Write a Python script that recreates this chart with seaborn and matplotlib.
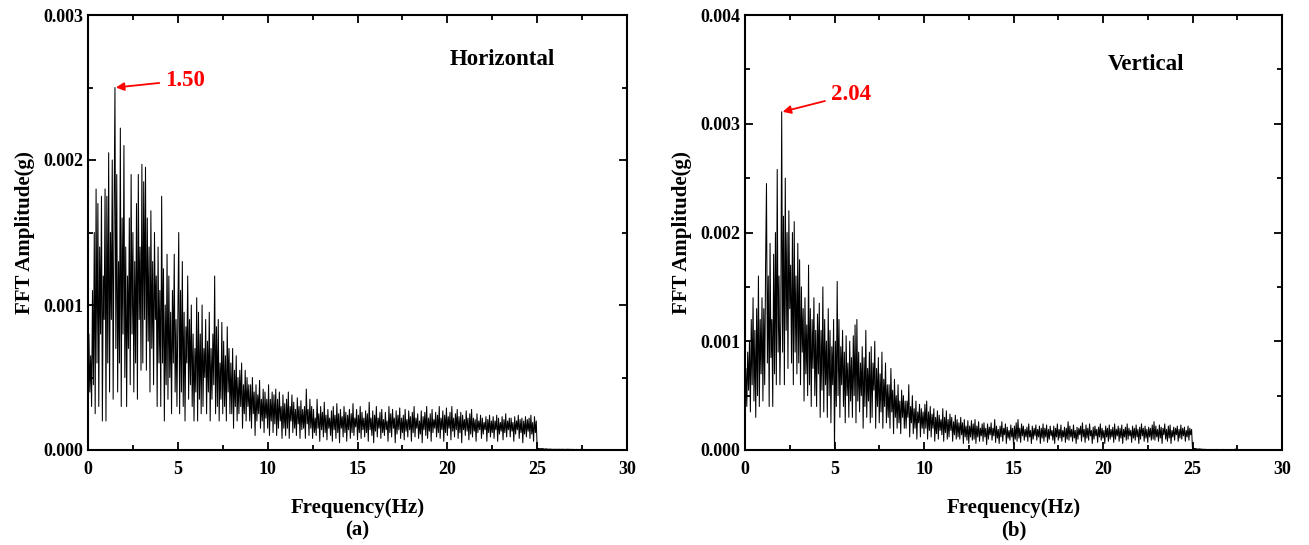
import numpy as np
import pandas as pd
import matplotlib
matplotlib.use("Agg")
import matplotlib.pyplot as plt
from matplotlib.ticker import MultipleLocator, FormatStrFormatter
import seaborn as sns

# ---- data: amplitudes in units of 1e-5 g ----
# low band : 0    .. 12.45 Hz every 0.05 Hz
# mid band : 12.5 .. 24.95 Hz every 0.05 Hz
# tail     : 25.0 .. 29.9  Hz every 0.1 Hz
fine_step_hz = 0.05
mid_start_hz = 12.5
tail_start_hz = 25.0
tail_step_hz = 0.1

horizontal_amp_low = [
    5, 80, 40, 65, 30, 110, 45, 150, 25, 180, 60, 170, 30, 140, 80, 175, 20, 120, 90, 180,
    20, 175, 60, 205, 40, 150, 90, 200, 35, 160, 250, 70, 190, 40, 130, 60, 222, 30, 160, 80,
    210, 50, 140, 30, 120, 70, 160, 45, 190, 80, 150, 40, 130, 60, 170, 35, 190, 90, 140, 55,
    197, 60, 185, 90, 195, 55, 160, 75, 140, 40, 165, 70, 130, 45, 150, 90, 120, 30, 140, 60,
    110, 30, 175, 60, 125, 20, 100, 45, 135, 35, 120, 50, 95, 25, 110, 60, 135, 40, 90, 30,
    90, 150, 25, 110, 40, 130, 30, 95, 20, 85, 60, 120, 35, 90, 45, 100, 30, 80, 20, 70,
    40, 105, 20, 95, 35, 80, 25, 100, 30, 70, 50, 90, 25, 75, 40, 95, 20, 70, 35, 80,
    45, 120, 25, 85, 30, 90, 20, 60, 35, 88, 25, 75, 30, 65, 20, 85, 40, 70, 25, 60,
    25, 70, 15, 55, 30, 65, 20, 50, 25, 55, 30, 60, 15, 45, 25, 55, 20, 50, 30, 45,
    20, 45, 15, 50, 25, 40, 10, 45, 20, 38, 25, 48, 15, 35, 20, 42, 12, 40, 22, 35,
    15, 45, 10, 35, 20, 40, 12, 38, 18, 42, 10, 35, 15, 40, 20, 30, 8, 38, 15, 32,
    10, 35, 15, 40, 8, 30, 20, 38, 12, 33, 15, 28, 10, 36, 18, 30, 8, 34, 14, 28,
    15, 30, 8, 42, 18, 28, 10, 35, 15, 30,
]

horizontal_amp_mid = [
    8, 28, 12, 22, 10, 35, 15, 25, 6, 30, 14, 26, 9, 33, 12, 24, 7, 28, 15, 22,
    10, 27, 6, 30, 14, 24, 8, 32, 12, 25, 5, 28, 15, 23, 9, 30, 12, 26, 6, 24,
    14, 28, 8, 25, 12, 32, 10, 22, 16, 28, 7, 24, 12, 30, 8, 26, 14, 22, 9, 27,
    12, 25, 6, 33, 14, 22, 10, 27, 5, 24, 13, 30, 9, 22, 15, 26, 8, 28, 12, 21,
    10, 26, 14, 20, 6, 30, 12, 25, 9, 28, 15, 22, 5, 27, 11, 24, 14, 29, 8, 22,
    12, 24, 7, 28, 13, 21, 9, 27, 14, 23, 6, 26, 12, 30, 9, 22, 15, 25, 8, 20,
    11, 27, 5, 23, 14, 26, 10, 30, 8, 22, 13, 25, 6, 28, 12, 21, 15, 26, 9, 24,
    12, 30, 8, 22, 14, 27, 6, 24, 12, 29, 10, 23, 15, 26, 7, 30, 13, 22, 9, 25,
    14, 28, 8, 23, 12, 26, 5, 24, 14, 21, 10, 27, 13, 22, 7, 25, 11, 28, 9, 22,
    13, 21, 6, 25, 12, 20, 14, 24, 8, 22, 11, 19, 14, 23, 6, 21, 12, 24, 9, 20,
    12, 23, 8, 20, 14, 24, 6, 22, 11, 19, 13, 23, 7, 21, 12, 25, 9, 20, 14, 22,
    9, 22, 13, 19, 6, 23, 11, 20, 14, 24, 8, 21, 12, 22, 5, 20, 11, 23, 9, 21,
    13, 22, 8, 24, 11, 19, 6, 23, 12, 20,
]

horizontal_amp_tail = [
    1.0, 1.0, 0.8, 1.0, 0.6, 0.8, 0.5, 0.6, 0.5, 0.4,
    0.5, 0.4, 0.5, 0.4, 0.5, 0.4, 0.4, 0.5, 0.4, 0.4,
    0.4, 0.3, 0.4, 0.3, 0.4, 0.3, 0.4, 0.3, 0.3, 0.3,
    0.3, 0.3, 0.2, 0.3, 0.2, 0.3, 0.2, 0.2, 0.2, 0.2,
    0.2, 0.2, 0.2, 0.2, 0.2, 0.2, 0.2, 0.2, 0.2, 0.2,
]

vertical_amp_low = [
    30, 75, 40, 90, 55, 100, 35, 120, 60, 140, 45, 110, 30, 130, 50, 160, 40, 120, 70, 140,
    45, 130, 60, 170, 245, 80, 160, 40, 190, 85, 120, 40, 180, 70, 200, 60, 258, 90, 160, 60,
    120, 311, 90, 215, 60, 250, 110, 200, 75, 220, 130, 170, 80, 200, 60, 210, 90, 160, 70, 190,
    80, 175, 60, 150, 90, 130, 45, 140, 70, 115, 50, 170, 60, 130, 40, 120, 75, 140, 50, 110,
    40, 125, 70, 135, 30, 110, 55, 150, 35, 120, 60, 100, 30, 130, 50, 110, 25, 95, 60, 120,
    0, 100, 40, 155, 50, 120, 30, 95, 60, 110, 40, 90, 25, 105, 50, 80, 30, 100, 45, 85,
    30, 105, 50, 115, 25, 120, 45, 90, 35, 80, 50, 95, 20, 85, 40, 110, 30, 75, 45, 90,
    25, 95, 30, 80, 55, 100, 20, 75, 40, 85, 25, 70, 35, 90, 20, 65, 40, 80, 25, 60,
    30, 60, 20, 75, 35, 55, 15, 65, 30, 50, 20, 60, 25, 45, 15, 55, 30, 50, 20, 45,
    20, 45, 30, 60, 12, 40, 25, 50, 15, 38, 20, 45, 10, 35, 25, 42, 12, 38, 20, 35,
    15, 42, 20, 45, 10, 35, 18, 40, 12, 33, 20, 38, 8, 30, 15, 36, 10, 32, 18, 28,
    14, 38, 8, 30, 16, 36, 10, 28, 12, 33, 18, 30, 8, 26, 14, 32, 10, 28, 12, 25,
    10, 30, 14, 25, 6, 28, 12, 22, 9, 27,
]

vertical_amp_mid = [
    6, 22, 12, 27, 9, 24, 10, 28, 6, 22, 12, 26, 8, 20, 13, 24, 8, 25, 12, 20,
    5, 24, 10, 21, 14, 25, 9, 20, 13, 28, 7, 22, 11, 19, 6, 22, 12, 26, 8, 20,
    14, 24, 6, 21, 11, 18, 9, 23, 12, 20, 5, 22, 10, 25, 8, 28, 11, 20, 7, 24,
    13, 22, 9, 19, 12, 21, 8, 24, 12, 18, 6, 22, 10, 20, 13, 23, 9, 19, 12, 22,
    6, 20, 11, 24, 8, 20, 12, 23, 7, 19, 10, 22, 13, 18, 9, 22, 6, 20, 12, 24,
    9, 19, 11, 23, 8, 18, 12, 21, 7, 20, 10, 26, 9, 22, 12, 19, 8, 23, 11, 18,
    6, 21, 10, 20, 14, 22, 8, 25, 12, 19, 7, 23, 11, 20, 9, 24, 13, 18, 6, 21,
    10, 22, 13, 19, 7, 21, 12, 24, 9, 20, 11, 18, 6, 22, 12, 20, 8, 23, 10, 19,
    12, 21, 7, 24, 10, 19, 13, 22, 8, 20, 11, 23, 6, 19, 12, 21, 9, 24, 10, 20,
    13, 18, 7, 22, 11, 20, 9, 23, 12, 19, 6, 21, 10, 24, 13, 20, 8, 22, 11, 19,
    7, 21, 12, 20, 9, 23, 10, 26, 9, 22, 12, 19, 8, 23, 11, 21, 6, 20, 14, 24,
    10, 19, 8, 22, 11, 23, 6, 18, 12, 21, 9, 20, 14, 22, 8, 19, 11, 23, 10, 20,
    13, 21, 8, 18, 12, 22, 9, 20, 14, 19,
]

vertical_amp_tail = [
    1.0, 1.5, 1.2, 0.8, 1.0, 0.7, 0.6, 0.5, 0.5, 0.4,
    0.5, 0.4, 0.5, 0.4, 0.5, 0.4, 0.4, 0.5, 0.4, 0.4,
    0.4, 0.3, 0.4, 0.4, 0.8, 0.3, 0.4, 0.3, 0.3, 0.3,
    0.3, 0.3, 0.2, 0.3, 0.2, 0.3, 0.2, 0.2, 0.2, 0.2,
    0.2, 0.2, 0.2, 0.2, 0.2, 0.2, 0.2, 0.2, 0.2, 0.2,
]

panel_titles = ["Horizontal", "Vertical"]
panel_letters = ["(a)", "(b)"]
peak_labels = ["1.50", "2.04"]
y_max = [0.003, 0.004]


def build_frame(low, mid, tail):
    low = np.asarray(low, dtype=float)
    mid = np.asarray(mid, dtype=float)
    tail = np.asarray(tail, dtype=float)
    f_low = np.arange(len(low)) * fine_step_hz
    f_mid = mid_start_hz + np.arange(len(mid)) * fine_step_hz
    f_tail = tail_start_hz + np.arange(len(tail)) * tail_step_hz
    return pd.DataFrame({
        "Frequency": np.concatenate([f_low, f_mid, f_tail]),
        "Amplitude": np.concatenate([low, mid, tail]) * 1e-5,
    })


frames = [build_frame(horizontal_amp_low, horizontal_amp_mid, horizontal_amp_tail),
          build_frame(vertical_amp_low, vertical_amp_mid, vertical_amp_tail)]

# ---- style ----
sns.set_theme(style="ticks")
plt.rcParams["font.family"] = ["Liberation Serif", "DejaVu Serif"]
plt.rcParams["font.weight"] = "bold"
plt.rcParams["axes.labelweight"] = "bold"
plt.rcParams["text.color"] = "black"
plt.rcParams["axes.labelcolor"] = "black"
plt.rcParams["xtick.color"] = "black"
plt.rcParams["ytick.color"] = "black"

fig = plt.figure(figsize=(13.09, 5.45), dpi=100)
ax_a = fig.add_axes([88 / 1309, 1 - 450 / 545, (627 - 88) / 1309, 435 / 545])
ax_b = fig.add_axes([745 / 1309, 1 - 450 / 545, (1282 - 745) / 1309, 435 / 545])
axes = [ax_a, ax_b]

for i, ax in enumerate(axes):
    sns.lineplot(data=frames[i], x="Frequency", y="Amplitude", ax=ax,
                 color="black", linewidth=0.75, estimator=None, sort=False)
    ax.set_xlim(0, 30)
    ax.set_ylim(0, y_max[i])
    ax.xaxis.set_major_locator(MultipleLocator(5))
    ax.xaxis.set_minor_locator(MultipleLocator(2.5))
    ax.yaxis.set_major_locator(MultipleLocator(0.001))
    ax.yaxis.set_minor_locator(MultipleLocator(0.0005))
    ax.yaxis.set_major_formatter(FormatStrFormatter("%.3f"))
    ax.tick_params(which="both", direction="in", top=True, right=True,
                   width=1.3, labelsize=13, colors="black")
    ax.tick_params(which="major", length=6)
    ax.tick_params(which="minor", length=3.5)
    ax.tick_params(axis="x", pad=8)
    for lab in ax.get_xticklabels() + ax.get_yticklabels():
        lab.set_fontweight("bold")
    for s in ax.spines.values():
        s.set_linewidth(1.5)
        s.set_color("black")
    ax.set_xlabel("Frequency(Hz)", fontsize=15, fontweight="bold", labelpad=14)
    ax.set_ylabel("FFT Amplitude(g)", fontsize=15, fontweight="bold", labelpad=6)
    ax.text(0.5, -0.184, panel_letters[i], transform=ax.transAxes,
            ha="center", va="center", fontsize=15, fontweight="bold")
    ax.grid(False)

# panel titles
ax_a.text(0.768, 0.897, panel_titles[0], transform=ax_a.transAxes,
          ha="center", va="center", fontsize=16.5, fontweight="bold")
ax_b.text(0.747, 0.887, panel_titles[1], transform=ax_b.transAxes,
          ha="center", va="center", fontsize=16.5, fontweight="bold")

# peak annotations (arrow tip at the highest sample of each spectrum)
for i, ax in enumerate(axes):
    df = frames[i]
    k = df["Amplitude"].idxmax()
    px, py = df.loc[k, "Frequency"], df.loc[k, "Amplitude"]
    text_xy = [(4.3, 0.00255), (4.8, 0.00327)][i]
    ax.annotate(peak_labels[i], xy=(px + 0.05, py), xytext=text_xy,
                color="red", fontsize=16.5, fontweight="bold", va="center", ha="left",
                arrowprops=dict(arrowstyle="-|>", color="red", lw=1.3,
                                mutation_scale=12, shrinkA=2, shrinkB=0))

fig.savefig("out.png", dpi=100, facecolor="white")
